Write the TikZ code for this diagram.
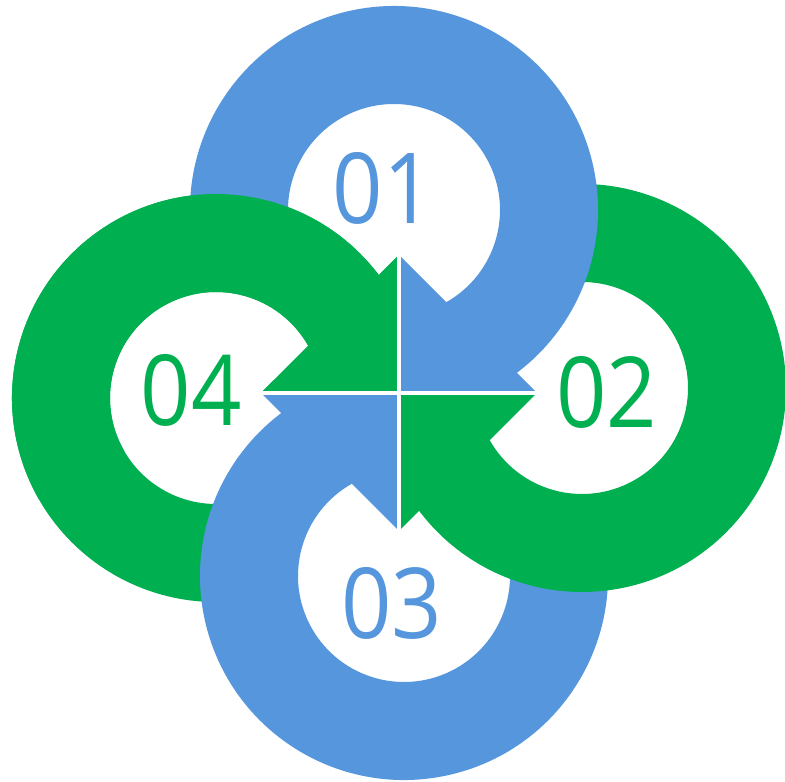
\documentclass[tikz,border=0pt]{standalone}
\usepackage{fontspec}
\setmainfont{Open Sans}
\newfontfamily\numfont[FakeStretch=0.9]{Open Sans}
\definecolor{ringblue}{HTML}{5596DD}
\definecolor{ringgreen}{HTML}{00AF50}
% #1 rotation about the centre, #2 colour, #3 tail angle
\newcommand\ringarrow[3]{%
  \begin{scope}[rotate around={#1:(399,389)}]
    \fill[#2] (394,572) ++(#3:204)
      arc[start angle=#3, end angle=-52.97, radius=204]
      -- (537,389) -- (399,389) -- (399,527)
      -- ([shift={(394,572)}]-60.48:106)
      arc[start angle=-60.48, end angle=#3, radius=106] -- cycle;
  \end{scope}}
\tikzset{
  numlabel/.style={anchor=base, inner sep=0pt, font=\numfont\fontsize{98}{98}\selectfont},
  gapline/.style={white, line width=4.5pt}
}
\begin{document}
\begin{tikzpicture}[x=1pt,y=1pt]
\useasboundingbox (0,0) rectangle (785,782);
\coordinate (C) at (399,389);
% drawing order: 04, 03, 02, 01, then the front part of 04 again
\ringarrow{90}{ringgreen}{192}
\ringarrow{180}{ringblue}{192}
\ringarrow{-90}{ringgreen}{192}
\ringarrow{0}{ringblue}{192}
\ringarrow{90}{ringgreen}{120}
% white gaps between the four arrow heads
\coordinate (hl) at (261,389);
\coordinate (hr) at (537,389);
\coordinate (vt) at (399,527);
\coordinate (vb) at (399,251);
\draw[gapline] (hl) -- (hr);
\draw[gapline] (vb) -- (vt);
% labels
\node[numlabel, text=ringblue]  (t1) at (383,558) {01};
\node[numlabel, text=ringgreen] (t2) at (606.5,354) {02};
\node[numlabel, text=ringblue]  (t3) at (391.5,143) {03};
\node[numlabel, text=ringgreen] (t4) at (191,356) {04};
\end{tikzpicture}
\end{document}
